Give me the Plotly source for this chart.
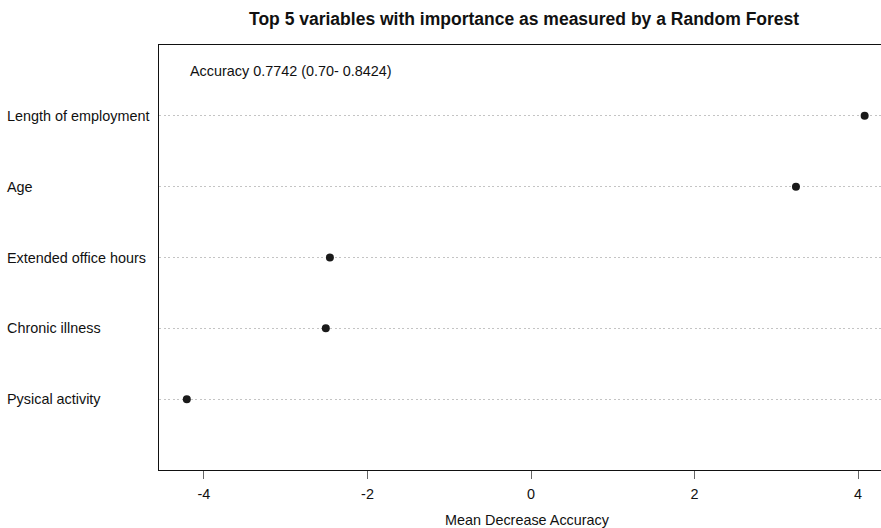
import plotly.graph_objects as go

# Data (bottom to top, as in an R dotchart)
variables = ["Pysical activity", "Chronic illness", "Extended office hours", "Age", "Length of employment"]
importance = [-4.21, -2.51, -2.46, 3.24, 4.08]
positions = [1, 2, 3, 4, 5]
x_ticks = [-4, -2, 0, 2, 4]
title_text = "Top 5 variables with importance as measured by a Random Forest"
x_title = "Mean Decrease Accuracy"
accuracy_text = "Accuracy 0.7742 (0.70- 0.8424)"

FONT = "Liberation Sans, Arial, Helvetica, sans-serif"
FS = 14.4

fig = go.Figure()
fig.add_trace(go.Scatter(
    x=importance, y=positions, mode="markers",
    marker=dict(color="#1a1a1a", size=8, line=dict(width=0)),
    showlegend=False, hoverinfo="x+y",
))

annotations = []
for name, pos in zip(variables, positions):
    annotations.append(dict(
        text=name, xref="paper", yref="y", x=(5 - 159) / 722, y=pos,
        xanchor="left", yanchor="middle", showarrow=False,
        font=dict(family=FONT, size=FS, color="#111"),
    ))
annotations.append(dict(
    text=accuracy_text, xref="x", yref="y", x=-4.2, y=5.63,
    xanchor="left", yanchor="middle", showarrow=False,
    font=dict(family=FONT, size=FS, color="#111"),
))
annotations.append(dict(
    text=x_title, xref="paper", yref="paper", x=(527 - 159) / 722, y=0,
    yshift=-50, xanchor="center", yanchor="middle", showarrow=False,
    font=dict(family=FONT, size=FS, color="#111"),
))
annotations.append(dict(
    text="<b>" + title_text + "</b>", xref="paper", yref="paper",
    x=(524 - 159) / 722, y=1, yshift=26, xanchor="center", yanchor="middle",
    showarrow=False, font=dict(family=FONT, size=17.5, color="#111"),
))

fig.update_layout(
    width=881, height=528,
    margin=dict(l=159, r=0, t=45, b=58),
    paper_bgcolor="white", plot_bgcolor="white",
    font=dict(family=FONT, size=FS, color="#111"),
    annotations=annotations,
    xaxis=dict(
        range=[-4.55, 4.28], tickvals=x_ticks, ticktext=[str(t) for t in x_ticks],
        showgrid=False, zeroline=False,
        showline=True, linecolor="#111", linewidth=1, mirror=True,
        ticks="outside", ticklen=8, tickcolor="#666", tickwidth=1,
        ticklabelstandoff=3,
        tickfont=dict(family=FONT, size=FS, color="#111"),
    ),
    yaxis=dict(
        range=[0, 6], tickvals=positions, showticklabels=False,
        showgrid=True, gridcolor="#c4c4c4", griddash="2px,2.5px", gridwidth=1,
        zeroline=False, showline=True, linecolor="#111", linewidth=1,
        mirror=False, ticks="",
    ),
)

fig.write_html(
    "out.html",
    config={"displayModeBar": False},
    post_script="document.body.style.margin='0';document.body.style.overflow='hidden';",
)
